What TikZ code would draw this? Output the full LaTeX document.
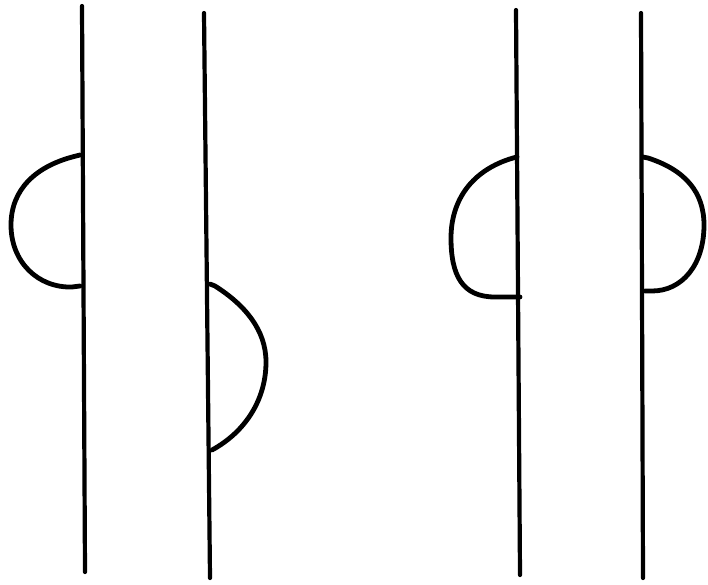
\documentclass[tikz,border=0pt]{standalone}
\begin{document}
\begin{tikzpicture}[x=1pt,y=-1pt,
  stroke/.style={line width=4.2pt,line cap=round,line join=round,black},
  arcstroke/.style={line width=4.8pt,line cap=round,line join=round,black}]
\useasboundingbox (0,0) rectangle (708,584);
% vertical lines
\coordinate (a1) at (82,6); \coordinate (a2) at (85,572);
\coordinate (b1) at (204,13); \coordinate (b2) at (210,578);
\coordinate (c1) at (516,10); \coordinate (c2) at (520,575);
\coordinate (d1) at (641,13); \coordinate (d2) at (643,578);
\draw[stroke] (a1) -- (a2);
\draw[stroke] (b1) -- (b2);
\draw[stroke] (c1) -- (c2);
\draw[stroke] (d1) -- (d2);
% arcs
\draw[arcstroke] (80,155) -- (76,156) .. controls (35,166) and (11,190) .. (11,225)
  .. controls (11,262) and (38,288) .. (72,287) -- (80,286);
\draw[arcstroke] (210,284) -- (215,286) .. controls (245,305) and (266,330) .. (266,362)
  .. controls (266,400) and (245,432) .. (212,450);
\draw[arcstroke] (517,157) -- (513,158) .. controls (472,170) and (451,200) .. (451,238)
  .. controls (451,275) and (462,297) .. (495,297) -- (520,297);
\draw[arcstroke] (643,157) -- (648,158) .. controls (685,170) and (704,192) .. (704,225)
  .. controls (704,265) and (682,291) .. (652,291) -- (645,291);
\end{tikzpicture}
\end{document}
